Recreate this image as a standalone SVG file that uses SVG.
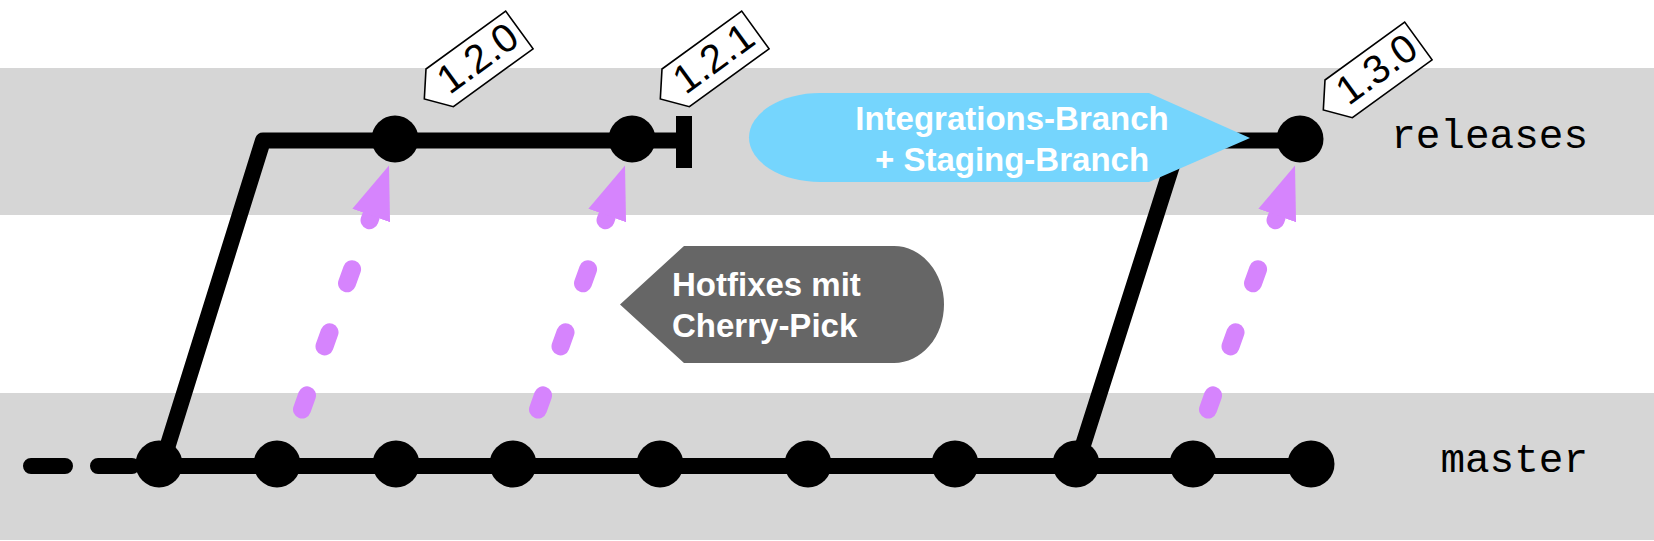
<svg xmlns="http://www.w3.org/2000/svg" xmlns:xlink="http://www.w3.org/1999/xlink" width="1654" height="541" viewBox="0 0 1654 541">
  <defs>
    <style>
      .band { fill: #d6d6d6; }
      .branch { fill: none; stroke: #000; stroke-width: 16; stroke-linejoin: round; }
      .commit { fill: #000; }
      .pick { fill: none; stroke: #d684fd; stroke-width: 18; stroke-linecap: round; stroke-dasharray: 15 52; }
      .tagshape { fill: #fff; stroke: #000; stroke-width: 1.6; stroke-linejoin: miter; }
      .tagtext { font-family: "Liberation Sans", Arial, sans-serif; font-size: 40px; fill: #000; text-anchor: middle; }
      .calltext { font-family: "Liberation Sans", Arial, sans-serif; font-size: 33px; font-weight: bold; fill: #fff; }
      .lane { font-family: "Liberation Mono", "Courier New", monospace; font-size: 41px; fill: #000; text-anchor: end; }
    </style>
    <marker id="ah" markerUnits="userSpaceOnUse" viewBox="0 -22 56 44" markerWidth="56" markerHeight="44" refX="0" refY="0" orient="auto">
      <path d="M0,-20 L53,0 L0,20 Z" fill="#d684fd"/>
    </marker>
    <polygon id="tagshape" class="tagshape" points="0,0 98.5,0 98.5,46.6 0,46.6 -19,23.3"/>
  </defs>

  <g id="lanes">
    <rect class="band" x="0" y="68" width="1654" height="147"/>
    <rect class="band" x="0" y="393" width="1654" height="147"/>
  </g>

  <g id="connectors">
    <path class="branch" d="M31,466 L159,466" stroke-dasharray="34 33" stroke-linecap="round"/>
    <path class="branch" d="M159,466 L1311,466"/>
    <path class="branch" d="M162,464 L263,140.5 L684,140.5"/>
    <path class="branch" d="M684,116 L684,168" style="stroke-linejoin:miter"/>
    <path class="branch" d="M1077,464 L1180,140.5 L1300,140.5"/>
    <path class="pick" d="M302,409.5 L371.2,215.5" marker-end="url(#ah)"/>
    <path class="pick" d="M538,409.5 L607.2,215.5" marker-end="url(#ah)"/>
    <path class="pick" d="M1208,409.5 L1277.2,215.5" marker-end="url(#ah)"/>
  </g>

  <g id="master-commits">
    <circle class="commit" cx="159" cy="464" r="23.5"/>
    <circle class="commit" cx="277" cy="464" r="23.5"/>
    <circle class="commit" cx="396" cy="464" r="23.5"/>
    <circle class="commit" cx="513" cy="464" r="23.5"/>
    <circle class="commit" cx="660" cy="464" r="23.5"/>
    <circle class="commit" cx="808" cy="464" r="23.5"/>
    <circle class="commit" cx="955" cy="464" r="23.5"/>
    <circle class="commit" cx="1076" cy="464" r="23.5"/>
    <circle class="commit" cx="1193" cy="464" r="23.5"/>
    <circle class="commit" cx="1311" cy="464" r="23.5"/>
  </g>

  <g id="release-commits">
    <circle class="commit" cx="395" cy="139" r="23.5"/>
    <circle class="commit" cx="632" cy="139" r="23.5"/>
    <circle class="commit" cx="1300" cy="139" r="23.5"/>
  </g>

  <g id="callout-integration">
    <path d="M820,93 L1149,93 L1250,138 L1149,182 L820,182 A71,44.5 0 0 1 820,93 Z" fill="#75d5fd"/>
    <text class="calltext" x="1012" y="130" text-anchor="middle">Integrations-Branch</text>
    <text class="calltext" x="1012" y="171" text-anchor="middle">+ Staging-Branch</text>
  </g>

  <g id="callout-hotfix">
    <path d="M620,304.5 L684,246 L894,246 A50,58.5 0 0 1 894,363 L684,363 Z" fill="#666666"/>
    <text class="calltext" x="672" y="296">Hotfixes mit</text>
    <text class="calltext" x="672" y="337">Cherry-Pick</text>
  </g>

  <g id="tag-1-2-0" transform="translate(426,69) rotate(-36)">
    <use xlink:href="#tagshape"/>
    <text class="tagtext" x="48" y="35">1.2.0</text>
  </g>
  <g id="tag-1-2-1" transform="translate(662,69) rotate(-36)">
    <use xlink:href="#tagshape"/>
    <text class="tagtext" x="48" y="35">1.2.1</text>
  </g>
  <g id="tag-1-3-0" transform="translate(1325,80) rotate(-36)">
    <use xlink:href="#tagshape"/>
    <text class="tagtext" x="48" y="35">1.3.0</text>
  </g>

  <g id="label-releases">
    <text class="lane" x="1588" y="148">releases</text>
  </g>
  <g id="label-master">
    <text class="lane" x="1588" y="472">master</text>
  </g>
</svg>
